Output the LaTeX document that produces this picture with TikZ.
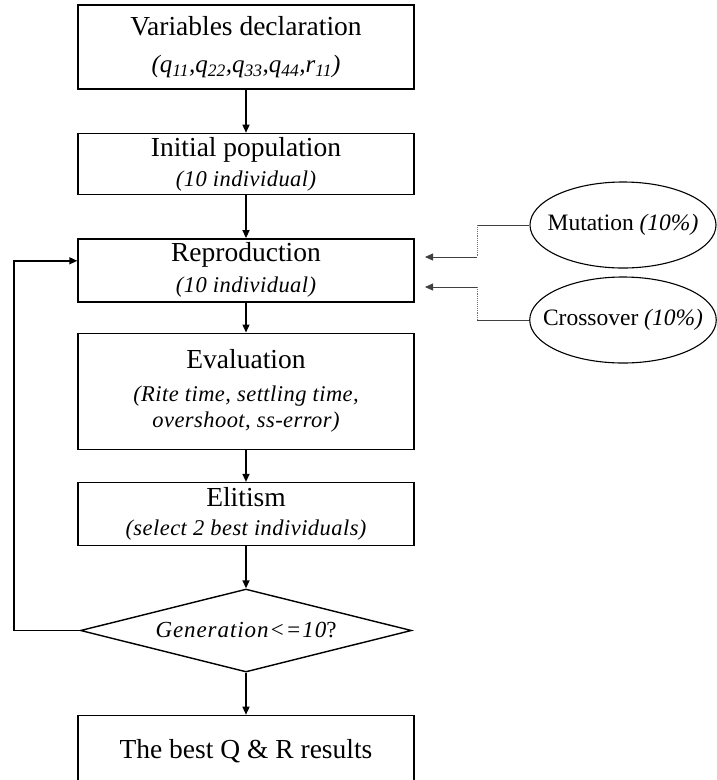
\documentclass[tikz,border=0pt]{standalone}
\usepackage{fontspec}
\setmainfont{Liberation Serif}
\usetikzlibrary{arrows.meta,positioning,shapes.geometric,calc}
\tikzset{
  stepbox/.style={rectangle,draw,line width=1.4pt,minimum width=336pt,align=center,inner sep=2pt,
    font=\fontsize{22.5}{29}\selectfont},
  choice/.style={diamond,draw,line width=1.4pt,minimum width=331pt,minimum height=83pt,aspect=4,inner sep=0pt},
  operator/.style={ellipse,draw,line width=1.1pt,minimum width=186pt,minimum height=86pt,inner sep=-14pt,
    font=\fontsize{23.5}{28}\selectfont},
  feed/.style={line width=0.8pt,draw=black!75},
  feeddot/.style={line width=0.9pt,draw=black!55,densely dotted},
}
\newcommand{\head}[1]{{\fontsize{27.5}{29}\selectfont #1}}
\newcommand{\note}[1]{{\itshape\addfontfeature{LetterSpace=2}#1}}

\begin{document}
\begin{tikzpicture}[x=1pt,y=1pt,>={Triangle[length=8pt,width=7pt]},line width=1.4pt]
  \useasboundingbox (0,0) rectangle (717,-780);
  % main column
  \node[stepbox,minimum height=84pt] (decl) at (246,-47)
    {\head{Variables declaration}\\[8pt]
     {\fontsize{25}{28}\selectfont\itshape (q\textsubscript{11},q\textsubscript{22},q\textsubscript{33},q\textsubscript{44},r\textsubscript{11})}};
  \node[stepbox,minimum height=61pt,below=43pt of decl] (init)
    {\head{Initial population}\\[1pt]\note{(10 individual)}};
  \node[stepbox,minimum height=63pt,below=43pt of init] (repro)
    {\head{Reproduction}\\[2pt]\note{(10 individual)}};
  \node[stepbox,minimum height=116pt,below=30pt of repro] (eval)
    {\head{Evaluation}\\[4pt]\note{(Rite time, settling time,}\\[-3pt]\note{overshoot, ss-error)}};
  \node[stepbox,minimum height=63pt,below=32pt of eval] (elite)
    {\head{Elitism}\\\note{(select 2 best individuals)}};
  \node[choice,below=42pt of elite] (gen)
    {{\fontsize{23}{26}\selectfont\itshape\addfontfeature{LetterSpace=4}Generation<=10\upshape?}};
  \node[stepbox,minimum height=71pt,below=42pt of gen] (best)
    {\head{The best Q \& R results}};
  \fill[black!75] ($(best.south east)+(-8,0)$) -- (best.south east) -- ++(0,8) -- cycle;

  % operators
  \node[operator] (mut) at (623,-225) {Mutation \textit{(10\%)}};
  \node[operator] (cross) at (623,-320) {Crossover \textit{(10\%)}};

  \draw[->] (decl) -- (init);
  \draw[->] (init) -- (repro);
  \draw[->] (repro) -- (eval);
  \draw[->] (eval) -- (elite);
  \draw[->] (elite) -- (gen);
  \draw[->] (gen) -- (best);

  % loop back
  \coordinate (loopin) at ($(repro.west)+(0,9.5)$);
  \draw[->] (gen.west) -- ++(-66,0) |- (loopin);

  % operator feeds
  \coordinate (mknee) at (477,-257);
  \coordinate (mtip) at (425,-257);
  \coordinate (cknee) at (477,-287);
  \coordinate (ctip) at (425,-287);
  \draw[feed] (mut.west) -- (mut.west -| mknee);
  \draw[feeddot] (mut.west -| mknee) -- (mknee);
  \draw[feed,->] (mknee) -- (mtip);
  \draw[feed] (cross.west) -- (cross.west -| cknee);
  \draw[feeddot] (cross.west -| cknee) -- (cknee);
  \draw[feed,->] (cknee) -- (ctip);
\end{tikzpicture}
\end{document}
